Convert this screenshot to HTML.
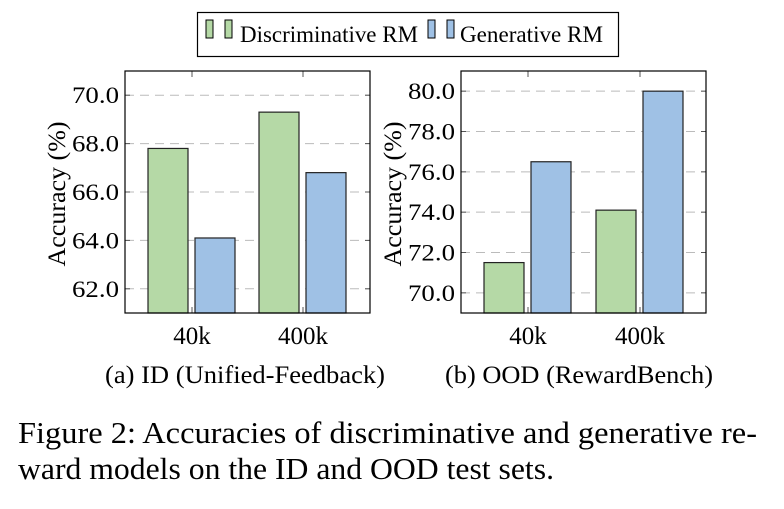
<!DOCTYPE html>
<html><head><meta charset="utf-8"><style>
body{margin:0;background:#fff;width:784px;height:504px;overflow:hidden}
text{font-family:"Liberation Serif",serif;fill:#000}
</style></head><body>
<svg id="fig" width="784" height="504" xmlns="http://www.w3.org/2000/svg">
<g>
<rect x="197.5" y="12.5" width="421" height="44" fill="#fff" stroke="#000" stroke-width="1.2"/>
<rect x="206" y="20" width="7" height="18" fill="#b5d9a6" stroke="#000"/>
<rect x="225" y="20" width="7" height="18" fill="#b5d9a6" stroke="#000"/>
<text x="240" y="42" font-size="23" textLength="178" lengthAdjust="spacingAndGlyphs">Discriminative RM</text>
<rect x="428" y="20" width="7" height="18" fill="#9fc1e5" stroke="#000"/>
<rect x="447" y="20" width="7" height="18" fill="#9fc1e5" stroke="#000"/>
<text x="460" y="42" font-size="23" textLength="143" lengthAdjust="spacingAndGlyphs">Generative RM</text>
</g>
<g id="left"></g>
<g id="right"></g>
<text x="245" y="383" font-size="25" text-anchor="middle" textLength="280" lengthAdjust="spacingAndGlyphs">(a) ID (Unified-Feedback)</text>
<text x="579" y="383" font-size="25" text-anchor="middle" textLength="268" lengthAdjust="spacingAndGlyphs">(b) OOD (RewardBench)</text>
<text x="18" y="443" font-size="31" textLength="739" lengthAdjust="spacingAndGlyphs">Figure 2: Accuracies of discriminative and generative re-</text>
<text x="18" y="479" font-size="31" textLength="536" lengthAdjust="spacingAndGlyphs">ward models on the ID and OOD test sets.</text>
</svg>
<script>
const categories=["40k","400k"];
const idDisc=[67.8,69.3];
const idGen=[64.1,66.8];
const oodDisc=[71.5,74.1];
const oodGen=[76.5,80.0];
const idTicks=[62,64,66,68,70];
const oodTicks=[70,72,74,76,78,80];
const NS="http://www.w3.org/2000/svg";
function el(p,t,a){const e=document.createElementNS(NS,t);for(const k in a)e.setAttribute(k,a[k]);p.appendChild(e);return e;}
function draw(g,x0,x1,ymin,ymax,ticks,disc,gen,catX){
  const y0=313,y1=71;
  const ys=v=>y0-(v-ymin)/(ymax-ymin)*(y0-y1);
  ticks.forEach(t=>{
    const l=el(g,'line',{x1:x0,x2:x1,y1:ys(t),y2:ys(t),stroke:'#bbb','stroke-dasharray':'9,6'});
    
    
    el(g,'line',{x1:x0,x2:x0+5,y1:ys(t),y2:ys(t),stroke:'#555'});
    el(g,'line',{x1:x1-5,x2:x1,y1:ys(t),y2:ys(t),stroke:'#555'});
    const tx=el(g,'text',{x:x0-6,y:ys(t)+8,'font-size':23,'text-anchor':'end',textLength:47,lengthAdjust:'spacingAndGlyphs'});
    tx.textContent=t.toFixed(1);
    
    
  });
  categories.forEach((c,i)=>{
    const cx=catX[i];
    [[disc[i],'#b5d9a6',cx-44],[gen[i],'#9fc1e5',cx+3]].forEach(([v,col,bx],j)=>{
      const r=el(g,'rect',{x:bx,y:ys(v),width:40,height:y0-ys(v),fill:col,stroke:'#222','stroke-width':1.2});
      
      
    });
    el(g,'line',{x1:cx,x2:cx,y1:y1,y2:y1+6,stroke:'#555'});
    el(g,'line',{x1:cx,x2:cx,y1:y0-6,y2:y0,stroke:'#555'});
    const tx=el(g,'text',{x:cx,y:344,'font-size':25,'text-anchor':'middle'});
    tx.textContent=c;
    
    
  });
  el(g,'rect',{x:x0,y:y1,width:x1-x0,height:y0-y1,fill:'none',stroke:'#000','stroke-width':1.2});
  const tt=el(g,'text',{x:0,y:0,'font-size':25,'text-anchor':'middle',textLength:145,lengthAdjust:'spacingAndGlyphs',transform:`translate(${x0-60},${(y0+y1)/2+2}) rotate(-90)`});
  tt.textContent='Accuracy (%)';
  
  
}
draw(document.getElementById('left'),125,370,61.0,71.0,idTicks,idDisc,idGen,[192,303]);
draw(document.getElementById('right'),461,706,69.0,81.0,oodTicks,oodDisc,oodGen,[528,640]);
</script>
</body></html>
